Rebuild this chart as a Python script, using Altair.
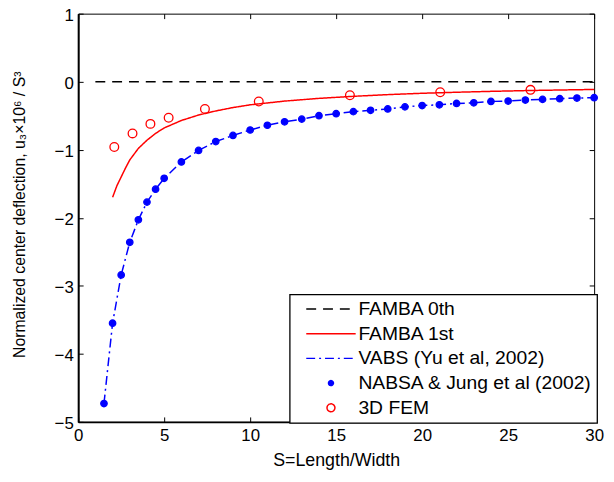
import altair as alt
import pandas as pd

series_names = ["FAMBA 0th", "FAMBA 1st", "VABS (Yu et al, 2002)",
                "NABSA & Jung et al (2002)", "3D FEM"]
series_colors = ["#000000", "#ff0000", "#0000ff", "#0000ff", "#ff0000"]

famba0_S = [1, 30]
famba0_u = [0.0, 0.0]

famba1_S = [2, 2.25, 2.5, 2.75, 3, 3.5, 4, 4.5, 5, 6, 7, 8, 9, 10,
            12, 14, 16, 18, 20, 22, 24, 26, 28, 30]
famba1_u = [-1.70, -1.53, -1.40, -1.27, -1.15, -0.98, -0.86, -0.76, -0.68,
            -0.57, -0.49, -0.43, -0.38, -0.34, -0.285, -0.245, -0.215,
            -0.19, -0.17, -0.155, -0.142, -0.131, -0.122, -0.114]

vabs_S = [1.5, 2, 2.5, 3, 3.5, 4, 4.5, 5, 6, 7, 8, 9, 10, 11, 12, 13, 14,
          15, 16, 17, 18, 19, 20, 21, 22, 23, 24, 25, 26, 27, 28, 29, 30]
vabs_u = [-4.73, -3.55, -2.84, -2.36, -2.03, -1.77, -1.58, -1.42, -1.18,
          -1.01, -0.88, -0.79, -0.71, -0.64, -0.59, -0.55, -0.50, -0.47,
          -0.44, -0.42, -0.40, -0.37, -0.35, -0.34, -0.32, -0.31, -0.29,
          -0.285, -0.27, -0.26, -0.25, -0.24, -0.235]

nabsa_S = vabs_S
nabsa_u = vabs_u

fem_S = [2.1, 3.16, 4.2, 5.26, 7.37, 10.5, 15.8, 21.05, 26.3]
fem_u = [-0.96, -0.76, -0.62, -0.53, -0.40, -0.29, -0.20, -0.155, -0.12]

x_ticks = [0, 5, 10, 15, 20, 25, 30]
y_ticks = [-5, -4, -3, -2, -1, 0, 1]


def frame(name, S, u):
    return pd.DataFrame({"series": name, "S": S, "u": u})


lines_df = pd.concat([
    frame(series_names[0], famba0_S, famba0_u),
    frame(series_names[1], famba1_S, famba1_u),
    frame(series_names[2], vabs_S, vabs_u),
], ignore_index=True)
nabsa_df = frame(series_names[3], nabsa_S, nabsa_u)
fem_df = frame(series_names[4], fem_S, fem_u)

W, H = 522, 413
FONT = "Liberation Sans"

LINE_PATH = "M-5,0H5"
DOT_PATH = "M-0.5,0A0.5,0.5,0,1,0,0.5,0A0.5,0.5,0,1,0,-0.5,0Z"
RING_PATH = "M-0.8,0A0.8,0.8,0,1,0,0.8,0A0.8,0.8,0,1,0,-0.8,0Z"

xs = alt.Scale(domain=[0, 30], nice=False, zero=False)
ys = alt.Scale(domain=[-5, 1], nice=False, zero=False)

leg = alt.Legend(title=None, orient="none", legendX=214, legendY=284)

color_enc = alt.Color("series:N", scale=alt.Scale(domain=series_names, range=series_colors), legend=leg)
dash_enc = alt.StrokeDash("series:N", scale=alt.Scale(
    domain=series_names, range=[[10, 7], [1, 0], [9, 4, 2, 4], [1, 0], [1, 0]]), legend=leg)
shape_enc = alt.Shape("series:N", scale=alt.Scale(
    domain=series_names, range=[LINE_PATH, LINE_PATH, LINE_PATH, DOT_PATH, RING_PATH]), legend=leg)
fill_enc = alt.Fill("series:N", scale=alt.Scale(
    domain=series_names,
    range=["transparent", "transparent", "transparent", "#0000ff", "transparent"]), legend=leg)

lines = alt.Chart(lines_df).mark_line(strokeWidth=1.5).encode(
    x=alt.X("S:Q", scale=xs, axis=alt.Axis(
        title="S=Length/Width", values=x_ticks, ticks=False, grid=False,
        domainColor="black", domainWidth=2, labelFontSize=17, titleFontSize=18,
        labelPadding=6, titlePadding=8, labelFlush=False)),
    y=alt.Y("u:Q", scale=ys, axis=alt.Axis(
        title="Normalized center deflection, u₃×10⁶ / S³", values=y_ticks,
        ticks=False, grid=False, domainColor="black", domainWidth=2,
        labelFontSize=17, titleFontSize=16, labelPadding=5, labelOffset=2,
        titleX=-59, titleY=203, titleAngle=270, titleAlign="center",
        titleBaseline="middle")),
    color=color_enc,
    strokeDash=dash_enc,
    order="S:Q",
)


def point_layer(df, size):
    return alt.Chart(df).mark_point(filled=False, strokeWidth=1.3, opacity=1, size=size).encode(
        x=alt.X("S:Q", scale=xs, axis=None),
        y=alt.Y("u:Q", scale=ys, axis=None),
        color=color_enc,
        shape=shape_enc,
        fill=fill_enc,
    )


nabsa = point_layer(nabsa_df, 170)
fem = point_layer(fem_df, 121)


def tick_axis(orient, offset, values):
    return alt.Axis(orient=orient, offset=offset, labels=False, domain=False,
                    ticks=True, tickSize=5, tickColor="black", tickWidth=1,
                    title=None, grid=False, values=values)


def helper(xaxis, yaxis):
    return alt.Chart(lines_df).mark_point(opacity=0).encode(
        x=alt.X("S:Q", scale=xs, axis=xaxis),
        y=alt.Y("u:Q", scale=ys, axis=yaxis),
    )


hA = helper(tick_axis("top", -H, x_ticks), None)
hB = helper(tick_axis("bottom", -H, x_ticks), None)
hC = helper(None, tick_axis("right", -W, y_ticks))
hD = helper(None, tick_axis("left", -W, y_ticks))

chart = alt.layer(lines, nabsa, fem, hA, hB, hC, hD).resolve_axis(
    x="independent", y="independent"
).properties(
    width=W, height=H,
    autosize=alt.AutoSizeParams(type="none"),
    padding={"left": 71, "top": 3, "right": 12, "bottom": 50},
    background="white",
).configure_view(
    stroke="black", strokeWidth=1
).configure_axis(
    labelFont=FONT, titleFont=FONT, labelColor="black", titleColor="black",
    titleFontWeight="normal",
).configure_legend(
    labelFont=FONT, labelFontSize=19.5, labelColor="black", labelLimit=400,
    strokeColor="black", strokeWidth=1.3, fillColor="white",
    padding=5, rowPadding=4, labelOffset=18, symbolOffset=27,
    symbolSize=100, symbolStrokeWidth=1.5,
)

chart.save("out.html", embed_options={"renderer": "svg", "actions": False})
